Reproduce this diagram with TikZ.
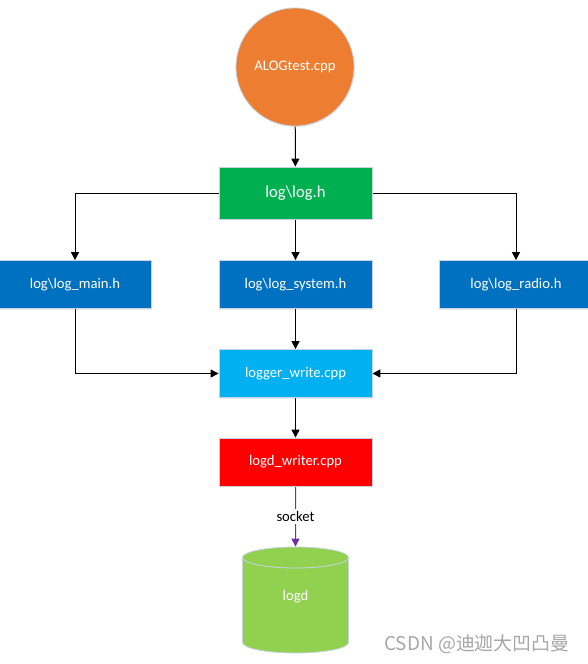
\documentclass[tikz,border=0pt]{standalone}
\usepackage{fontspec}
\setmainfont{Carlito}
\newfontfamily\cjkfont{Noto Sans CJK SC}
\usetikzlibrary{arrows.meta}
\usetikzlibrary{shapes.geometric}
\usetikzlibrary{shadows}
\pgfdeclarelayer{edgelayer}
\pgfdeclarelayer{nodelayer}
\pgfsetlayers{edgelayer,nodelayer,main}
\definecolor{srcorange}{HTML}{ED7D31}
\definecolor{hdrgreen}{HTML}{00B050}
\definecolor{hdrblue}{HTML}{0070C0}
\definecolor{cppcyan}{HTML}{00B0F0}
\definecolor{cppred}{HTML}{FF0000}
\definecolor{dblime}{HTML}{92D050}
\definecolor{sockpurple}{HTML}{7030A0}
\definecolor{rim}{HTML}{C5D3E3}
\tikzstyle{none}=[inner sep=0pt]
\tikzstyle{source}=[circle,fill=srcorange,draw=rim,line width=0.6pt,text=white,minimum size=88.5pt,font=\fontsize{11}{13}\selectfont,drop shadow={shadow xshift=0.6pt,shadow yshift=-0.8pt,opacity=0.15}]
\tikzstyle{file}=[rectangle,draw=rim,line width=0.6pt,text=white,minimum width=114.75pt,minimum height=36pt,font=\fontsize{11}{13}\selectfont,drop shadow={shadow xshift=0.6pt,shadow yshift=-0.8pt,opacity=0.15}]
\tikzstyle{store}=[cylinder,shape border rotate=90,aspect=0.61,draw=rim,line width=0.6pt,cylinder uses custom fill,cylinder body fill=dblime,cylinder end fill=dblime,text=white,minimum width=79.5pt,minimum height=79.5pt,text depth=18pt,font=\fontsize{11}{13}\selectfont]
\tikzstyle{transition}=[-{Triangle[length=6pt,width=6pt]},draw=black,line width=0.75pt]
\tikzstyle{socket}=[-{Triangle[length=6pt,width=6pt]},draw=sockpurple,line width=0.75pt]

\begin{document}
\begin{tikzpicture}[x=0.75pt,y=-0.75pt]
	\useasboundingbox (0,0) rectangle (587,664);
	\begin{pgfonlayer}{nodelayer}
		\node [style=source] (0) at (295, 67) {ALOGtest.cpp};
		\node [style=file, fill=hdrgreen, minimum height=39pt, font=\fontsize{12.5}{14}\selectfont] (1) at (295.5, 193) {log\textbackslash log.h};
		\node [style=file, fill=hdrblue] (2) at (75, 284.5) {log\textbackslash log\_main.h};
		\node [style=file, fill=hdrblue] (3) at (295.5, 284.5) {log\textbackslash log\_system.h};
		\node [style=file, fill=hdrblue] (4) at (516, 284.5) {log\textbackslash log\_radio.h};
		\node [style=file, fill=cppcyan] (5) at (295.5, 373.5) {logger\_write.cpp};
		\node [style=file, fill=cppred] (6) at (295.5, 462) {logd\_writer.cpp};
		\node [style=store, anchor=shape center] (7) at (295.5, 600) {logd};
		\node [style=none, text=black!35, font=\cjkfont\fontsize{14.2}{16}\selectfont] (8) at (477, 644) {CSDN @迪迦大凹凸曼};
	\end{pgfonlayer}
	\begin{pgfonlayer}{edgelayer}
		\draw [style=transition] (0) to (1);
		\draw [style=transition] (1) -| (2);
		\draw [style=transition] (1) to (3);
		\draw [style=transition] (1) -| (4);
		\draw [style=transition] (2) |- (5);
		\draw [style=transition] (3) to (5);
		\draw [style=transition] (4) |- (5);
		\draw [style=transition] (5) to (6);
		\draw [style=socket] (6) to node[fill=white, text=black, inner sep=1.5pt, font=\fontsize{11}{13}\selectfont]{socket} (7);
	\end{pgfonlayer}
\end{tikzpicture}
\end{document}
